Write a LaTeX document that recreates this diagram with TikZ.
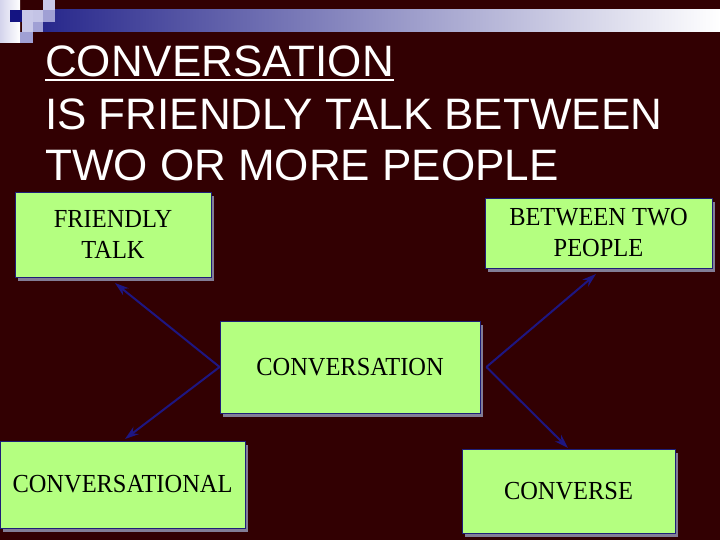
\documentclass[tikz,border=0pt]{standalone}
\usepackage{fontspec}
\setmainfont{Liberation Serif}
\newfontfamily\titlefont{Liberation Sans}
\newfontfamily\boxfont[FakeStretch=0.94]{Liberation Serif}
\usetikzlibrary{shadows,arrows.meta}
\definecolor{bg}{RGB}{50,0,2}
\definecolor{boxgreen}{RGB}{180,255,128}
\definecolor{boxline}{RGB}{30,30,120}
\definecolor{shadowgray}{RGB}{130,125,150}
\definecolor{arrowblue}{RGB}{30,22,130}
\definecolor{barblue}{RGB}{40,40,140}
\definecolor{lavA}{RGB}{212,212,236}
\definecolor{lavB}{RGB}{200,200,232}
\definecolor{lavC}{RGB}{160,160,212}
\definecolor{navysq}{RGB}{20,20,130}
\begin{document}
\begin{tikzpicture}[x=1pt,y=-1pt,
  conceptbox/.style={draw=boxline, line width=0.8pt, fill=boxgreen, inner sep=0pt, align=center,
    font=\boxfont\fontsize{26}{31}\selectfont, text=black,
    drop shadow={shadow xshift=3pt, shadow yshift=-4pt, fill=shadowgray, opacity=1}},
  link/.style={draw=arrowblue, line width=2pt, -{Stealth[length=14pt,width=9pt]}},
  titletext/.style={anchor=base west, inner sep=0pt, text=white, font=\titlefont\fontsize{44}{52}\selectfont}
]
\fill[bg] (0,0) rectangle (720,540);
\useasboundingbox (0,0) rectangle (720,540);
% decoration top-left
\shade[left color=lavA, right color=white] (0,0) rectangle (20,43);
\shade[left color=barblue, right color=white] (43,10) rectangle (720,32);
\fill[navysq] (10,10) rectangle (22,22);
\fill[lavB] (22,10) rectangle (33,22);
\fill[lavB!90!lavC] (33,10) rectangle (43,22);
\fill[lavB] (43,0) rectangle (55,10);
\fill[lavC] (43,10) rectangle (55,22);
\fill[lavB] (22,22) rectangle (33,32);
\fill[lavC] (33,22) rectangle (43,32);
\fill[lavC] (20,32) rectangle (33,43);
% title
\node[titletext] (t1) at (45,77) {CONVERSATION};
\draw[white, line width=2pt] ([yshift=-3.5pt]t1.base west) -- ([yshift=-3.5pt]t1.base east);
\node[titletext] (t2) at (45,130) {IS FRIENDLY TALK BETWEEN};
\node[titletext] (t3) at (45,181) {TWO OR MORE PEOPLE};
% boxes
\node[conceptbox, minimum width=196pt, minimum height=85pt] (ft) at (113,234.5) {FRIENDLY\\TALK};
\node[conceptbox, minimum width=227pt, minimum height=70pt] (bt) at (598.5,233) {BETWEEN TWO\\PEOPLE};
\node[conceptbox, minimum width=260pt, minimum height=92pt] (cv) at (350,367) {CONVERSATION};
\node[conceptbox, minimum width=245pt, minimum height=87pt] (cl) at (122.5,484.5) {CONVERSATIONAL};
\node[conceptbox, minimum width=213pt, minimum height=84pt] (cs) at (568.5,491) {CONVERSE};
% arrows
\coordinate (tipft) at (115,283);
\coordinate (tipbt) at (596,274);
\coordinate (tipcl) at (125,439);
\coordinate (tipcs) at (568,448);
\draw[link] (cv.west) -- (tipft);
\draw[link] (cv.west) -- (tipcl);
\draw[link] ([xshift=6pt]cv.east) -- (tipbt);
\draw[link] ([xshift=6pt]cv.east) -- (tipcs);
\end{tikzpicture}
\end{document}
